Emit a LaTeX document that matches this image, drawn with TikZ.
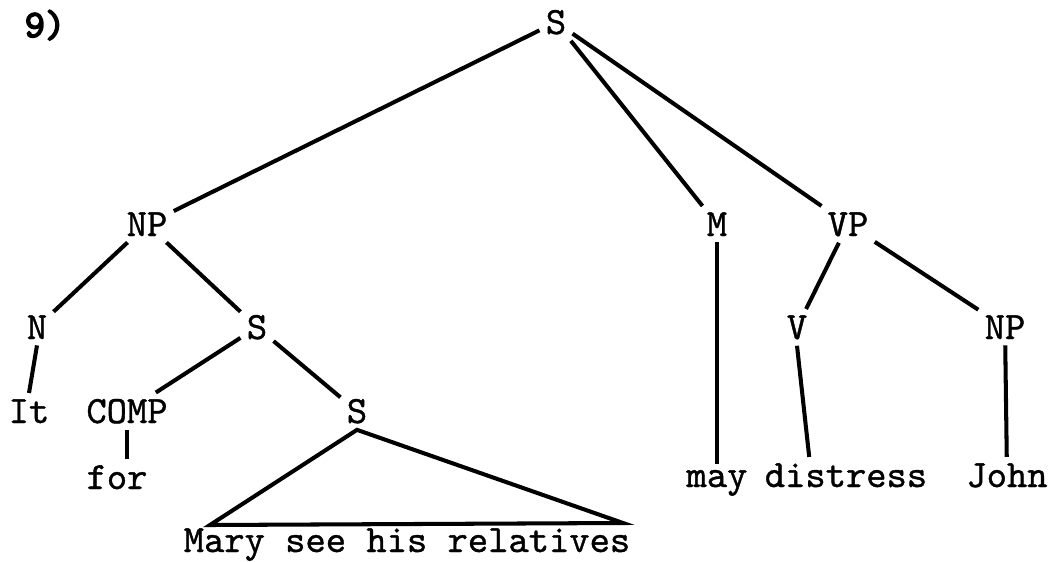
\documentclass[tikz,border=0pt]{standalone}
\usepackage{fontspec}
\newfontfamily\numfont{lmmono10-regular.otf}[FakeBold=4]
\newfontfamily\treefont{lmmono10-regular.otf}[FakeBold=1]
\usetikzlibrary{calc}

\begin{document}
\begin{tikzpicture}[x=0.02cm,y=-0.02cm,line width=2.3pt,
    every node/.style={inner sep=2.5pt,anchor=base,
      font=\fontsize{22}{24}\selectfont\treefont}]
  \useasboundingbox (0,0) rectangle (1051,561);
  \node[font=\fontsize{22}{24}\selectfont\numfont] (num) at (45,37) {9)};
  % categories
  \node (s0)   at (556,34)  {S};
  \node (np1)  at (147,236) {NP};
  \node (m)    at (717,236) {M};
  \node (vp)   at (848,236) {VP};
  \node (n)    at (37,339)  {N};
  \node (s1)   at (257,339) {S};
  \node (v)    at (797,339) {V};
  \node (np2)  at (1005,339) {NP};
  \node (comp) at (127,423) {COMP};
  \node (s2)   at (357,423) {S};
  % words
  \node (it)   at (29,423)  {It};
  \node (for)  at (117,489) {for};
  \node (may)  at (717,487) {may};
  \node (dis)  at (846,487) {distress};
  \node (john) at (1007,487) {John};
  \node (mary) at (407,552) {Mary see his relatives};
  \coordinate (tl) at (210,525);
  \coordinate (tr) at (623,523);
  \path
    (s0) edge (np1)
    (s0) edge (m)
    (s0) edge (vp)
    (np1) edge (n)
    (np1) edge (s1)
    (n.south) edge (it.north)
    (s1) edge (comp)
    (s1) edge (s2)
    (comp.south) edge (for.north -| comp.south)
    (m) edge (may)
    (vp) edge (v)
    (vp) edge (np2)
    (v.south) edge ($(dis.north west)!0.29!(dis.north east)$)
    (np2) edge (john);
  \draw (s2.south) -- (tl) -- (tr) -- cycle;
\end{tikzpicture}
\end{document}
